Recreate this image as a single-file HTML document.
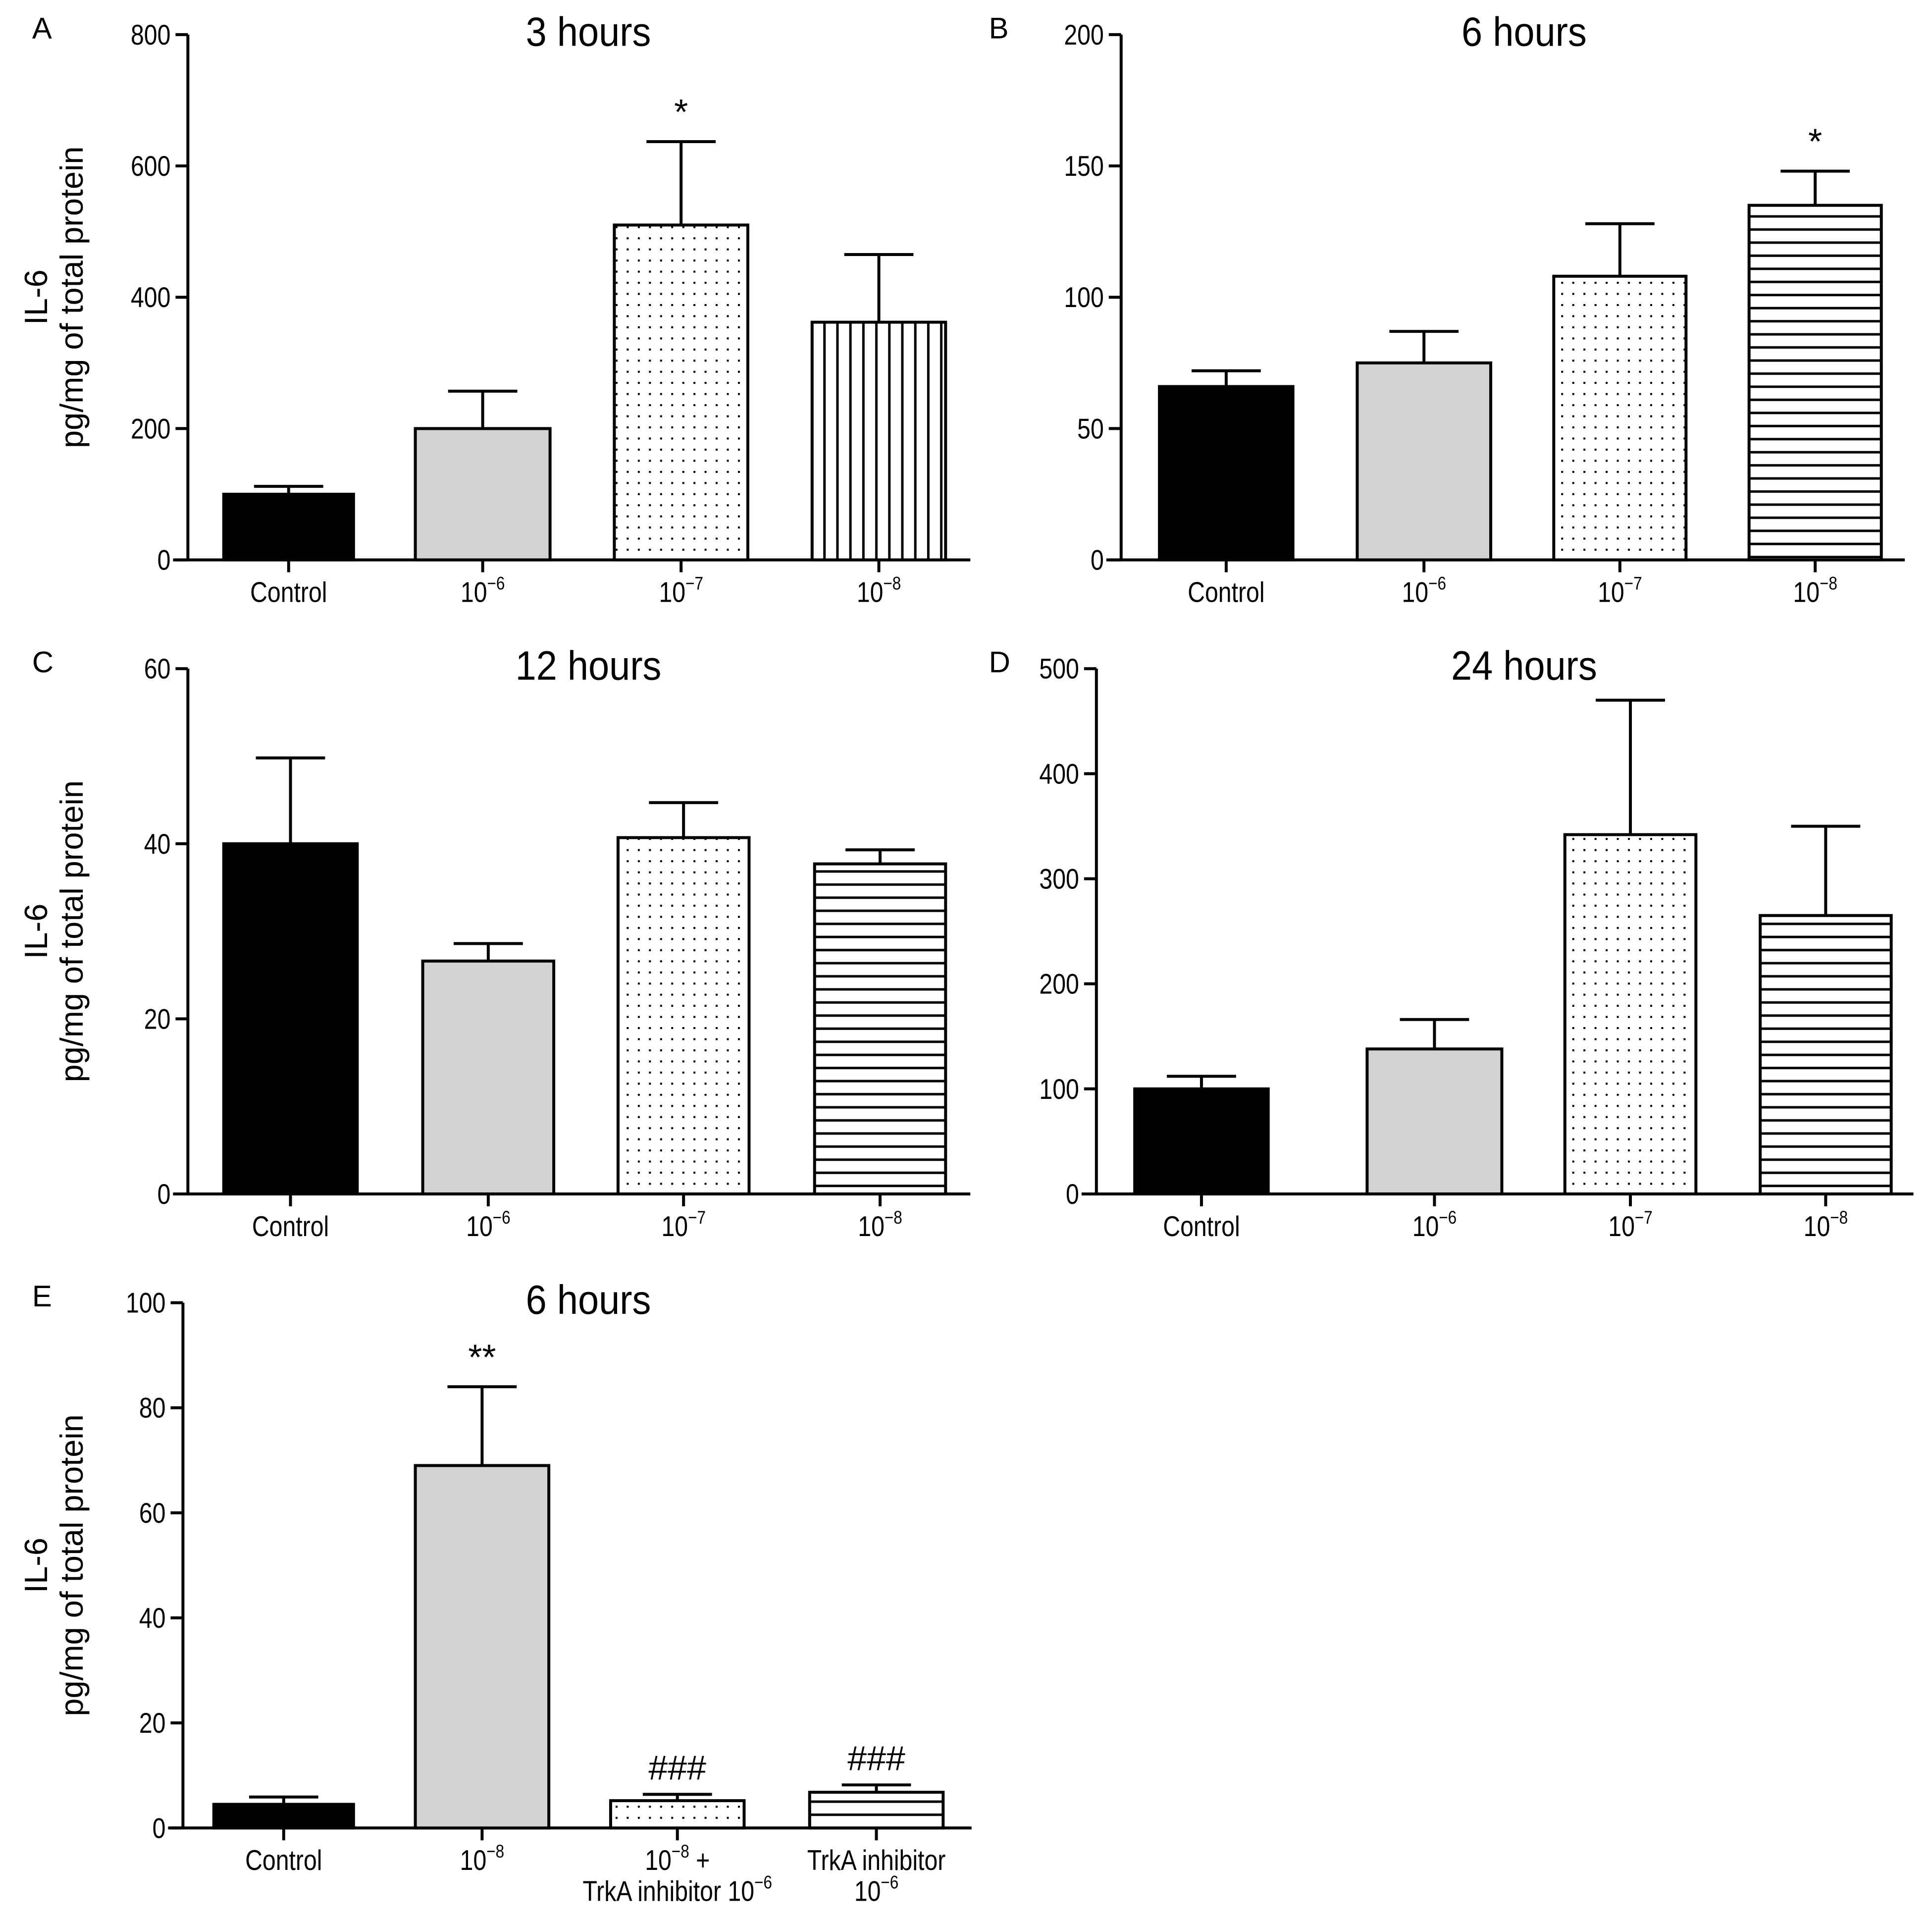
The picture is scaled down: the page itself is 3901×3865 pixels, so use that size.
<!DOCTYPE html>
<html><head><meta charset="utf-8"><style>
html,body{margin:0;padding:0;background:#fff}
svg{display:block}
text{font-family:"Liberation Sans Narrow","Liberation Sans",sans-serif;fill:#000}
.yt{font-family:"Liberation Sans",sans-serif}
</style></head><body>
<svg id="fig" width="3901" height="3865" viewBox="0 0 1563 1548.6" preserveAspectRatio="none" xmlns="http://www.w3.org/2000/svg">
<defs>
<pattern id="dots" width="9" height="9" patternUnits="userSpaceOnUse"><rect width="9" height="9" fill="#fff"/><rect x="3" y="3" width="1.6" height="1.6" fill="#000"/></pattern>
<pattern id="vlines" width="10.5" height="10" patternUnits="userSpaceOnUse"><rect width="10.5" height="10" fill="#fff"/><rect x="4.5" y="0" width="2" height="10" fill="#000"/></pattern>
<pattern id="hlines" width="10" height="10.6" patternUnits="userSpaceOnUse"><rect width="10" height="10.6" fill="#fff"/><rect x="0" y="4.5" width="10" height="2" fill="#000"/></pattern>
</defs>
<g id="root"></g>
</svg>
<script>
// Panel A: 3 hours
const catsA = ["Control","10|−6","10|−7","10|−8"];
const valsA = [100, 200, 510, 362];
const errsA = [12, 57, 127, 103];
const ticksA = [0, 200, 400, 600, 800];
const sigA = ["", "", "*", ""];
// Panel B: 6 hours
const catsB = ["Control","10|−6","10|−7","10|−8"];
const valsB = [66, 75, 108, 135];
const errsB = [6, 12, 20, 13];
const ticksB = [0, 50, 100, 150, 200];
const sigB = ["", "", "", "*"];
// Panel C: 12 hours
const catsC = ["Control","10|−6","10|−7","10|−8"];
const valsC = [40, 26.6, 40.7, 37.7];
const errsC = [9.8, 2, 4, 1.6];
const ticksC = [0, 20, 40, 60];
const sigC = ["", "", "", ""];
// Panel D: 24 hours
const catsD = ["Control","10|−6","10|−7","10|−8"];
const valsD = [100, 138, 342, 265];
const errsD = [12, 28, 128, 85];
const ticksD = [0, 100, 200, 300, 400, 500];
const sigD = ["", "", "", ""];
// Panel E: 6 hours with inhibitor
const catsE = ["Control","10|−8","10|−8| +/TrkA inhibitor 10|−6","TrkA inhibitor/10|−6"];
const valsE = [4.5, 69, 5.2, 6.8];
const errsE = [1.4, 15, 1.2, 1.4];
const ticksE = [0, 20, 40, 60, 80, 100];
const sigE = ["", "**", "###", "###"];

const NS = "http://www.w3.org/2000/svg";
const root = document.getElementById("root");
const SX = 0.84;
function mk(tag, attrs, parent){const e=document.createElementNS(NS,tag);for(const k in attrs)e.setAttribute(k,attrs[k]);(parent||root).appendChild(e);return e;}

function labelText(g, x, y, str){
  const lines = str.split("/");
  lines.forEach((ln,li)=>{
    const t = mk("text",{x:0,y:0,"text-anchor":"middle","font-size":23,transform:`translate(${x},${y+li*25}) scale(${SX},1)`},g);
    
    
    const parts = ln.split("|");
    parts.forEach((p,pi)=>{
      const s = document.createElementNS(NS,"tspan");
      if(pi%2===1){s.setAttribute("font-size",15);s.setAttribute("dy",-10);}
      else if(pi>0){s.setAttribute("dy",10);}
      s.textContent=p;t.appendChild(s);
    });
  });
}

function panel(cfg){
  const g = mk("g",{});
  
  
  const ymax = cfg.ticks[cfg.ticks.length-1];
  const Y = v => cfg.y0 - (v/ymax)*(cfg.y0-cfg.yTop);
  const ya = mk("line",{x1:cfg.ax,y1:cfg.yTop,x2:cfg.ax,y2:cfg.y0,stroke:"#000","stroke-width":2.4},g);
  
  
  const xa = mk("line",{x1:cfg.ax-12,y1:cfg.y0,x2:cfg.xEnd,y2:cfg.y0,stroke:"#000","stroke-width":2.4},g);
  
  
  cfg.ticks.forEach(t=>{
    mk("line",{x1:cfg.ax-10,y1:Y(t),x2:cfg.ax,y2:Y(t),stroke:"#000","stroke-width":2.4},g);
    const tl = mk("text",{x:0,y:0,"text-anchor":"end","font-size":23,transform:`translate(${cfg.ax-14},${Y(t)+8}) scale(${SX},1)`},g);
    tl.textContent=t;
    
    
  });
  cfg.vals.forEach((v,i)=>{
    const x1=cfg.bars[i][0], x2=cfg.bars[i][1], cx=(x1+x2)/2;
    const top=Y(v), et=Y(v+cfg.errs[i]);
    mk("line",{x1:cx,y1:top,x2:cx,y2:et,stroke:"#000","stroke-width":2.4},g);
    mk("line",{x1:cx-28,y1:et,x2:cx+28,y2:et,stroke:"#000","stroke-width":2.4},g);
    const r = mk("rect",{x:x1,y:top,width:x2-x1,height:cfg.y0-top,fill:cfg.fills[i],stroke:"#000","stroke-width":2.4},g);
    
    
    mk("line",{x1:cx,y1:cfg.y0,x2:cx,y2:cfg.y0+10,stroke:"#000","stroke-width":2.4},g);
    labelText(g, cx, cfg.y0+34, cfg.cats[i]);
    if(cfg.sig[i]){
      const s = mk("text",{x:cx,y:et-(cfg.sig[i][0]==="#"?12:14),"text-anchor":"middle","font-size":cfg.sig[i][0]==="#"?28:29},g);
      s.textContent=cfg.sig[i];
      
      
    }
  });
  const tt = mk("text",{x:0,y:0,"text-anchor":"middle","font-size":33,transform:`translate(${cfg.titleX},${cfg.yTop+9}) scale(0.92,1)`},g);
  tt.textContent=cfg.title;
  
  
  const pl = mk("text",{x:cfg.letterX,y:cfg.yTop+3,"font-size":24,"class":"yt"},g);
  pl.textContent=cfg.letter;
  
  
  if(cfg.ylabel){
    const cy=(cfg.yTop+cfg.y0)/2;
    const a = mk("text",{x:0,y:0,"text-anchor":"middle","font-size":26,"class":"yt",transform:`translate(38,${cy}) rotate(-90)`},g);
    a.textContent="IL-6";
    
    
    const b = mk("text",{x:0,y:0,"text-anchor":"middle","font-size":26,"class":"yt",transform:`translate(67,${cy}) rotate(-90)`},g);
    b.textContent="pg/mg of total protein";
    
    
  }
}

panel({name:"panel-a",letter:"A",letterX:26,title:"3 hours",titleX:476,ax:152,yTop:28,y0:453,xEnd:785,ticks:ticksA,vals:valsA,errs:errsA,cats:catsA,sig:sigA,ylabel:true,
  bars:[[181,286],[336,445],[497,605],[657,765]],fills:["#000","#d3d3d3","url(#dots)","url(#vlines)"]});
panel({name:"panel-b",letter:"B",letterX:800,title:"6 hours",titleX:1233,ax:907,yTop:28,y0:453,xEnd:1541,ticks:ticksB,vals:valsB,errs:errsB,cats:catsB,sig:sigB,ylabel:false,
  bars:[[938,1046],[1098,1206],[1257,1364],[1415,1522]],fills:["#000","#d3d3d3","url(#dots)","url(#hlines)"]});
panel({name:"panel-c",letter:"C",letterX:26,title:"12 hours",titleX:476,ax:152,yTop:541,y0:966,xEnd:785,ticks:ticksC,vals:valsC,errs:errsC,cats:catsC,sig:sigC,ylabel:true,
  bars:[[181,289],[342,448],[500,606],[659,765]],fills:["#000","#d3d3d3","url(#dots)","url(#hlines)"]});
panel({name:"panel-d",letter:"D",letterX:800,title:"24 hours",titleX:1233,ax:887,yTop:541,y0:966,xEnd:1548,ticks:ticksD,vals:valsD,errs:errsD,cats:catsD,sig:sigD,ylabel:false,
  bars:[[918,1026],[1106,1215],[1266,1372],[1424,1530]],fills:["#000","#d3d3d3","url(#dots)","url(#hlines)"]});
panel({name:"panel-e",letter:"E",letterX:26,title:"6 hours",titleX:476,ax:148,yTop:1054,y0:1479,xEnd:786,ticks:ticksE,vals:valsE,errs:errsE,cats:catsE,sig:sigE,ylabel:true,
  bars:[[173,286],[336,444],[494,602],[655,763]],fills:["#000","#d3d3d3","url(#dots)","url(#hlines)"]});
</script>
</body></html>
